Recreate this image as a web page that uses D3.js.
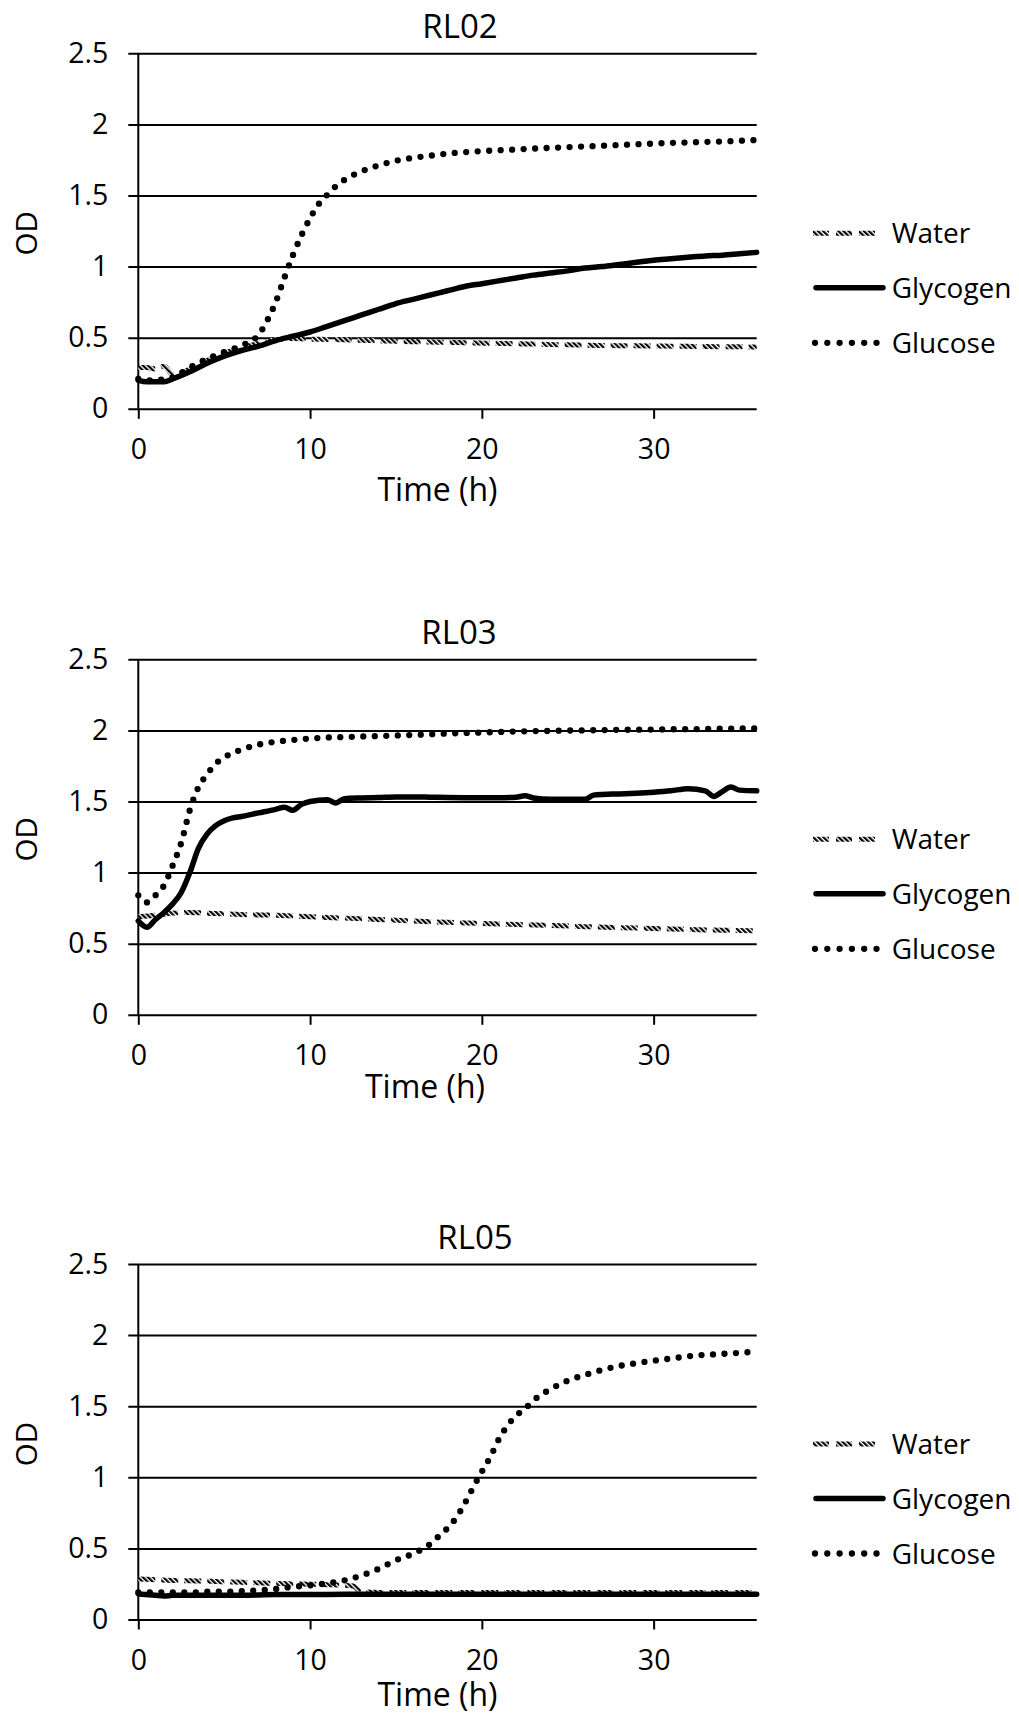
<!DOCTYPE html>
<html>
<head>
<meta charset="utf-8">
<script src="https://cdn.jsdelivr.net/npm/d3@7"></script>
<style>
  body { margin: 0; background: #fff; }
  svg { display: block; }
  text { font-family: "Open Sans", sans-serif; fill: #000; }
</style>
</head>
<body>
<svg id="chart" width="1019" height="1724"></svg>
<script>
// ---- data -------------------------------------------------------------
const panelTitles = ["RL02", "RL03", "RL05"];
const seriesNames = ["Water", "Glycogen", "Glucose"];
const yTicks = [0, 0.5, 1, 1.5, 2, 2.5];
const xTicks = [0, 10, 20, 30];
const xLabel = "Time (h)";
const yLabel = "OD";

// each series: [time (h), OD]
const rl02Water = [[0,0.29],[0.5,0.29],[1,0.28],[1.5,0.30],[2,0.24],[3,0.28],[4,0.34],[5,0.39],[6,0.43],[7,0.46],[8,0.485],[9,0.495],[10,0.49],[11,0.488],[12,0.485],[13,0.482],[14,0.478],[15,0.475],[16,0.472],[17,0.47],[18,0.467],[19,0.465],[20,0.462],[21,0.46],[22,0.457],[23,0.455],[24,0.452],[25,0.45],[26,0.448],[27,0.446],[28,0.444],[29,0.443],[30,0.442],[31,0.44],[32,0.439],[33,0.438],[34,0.437],[35,0.436],[36,0.435]];
const rl02Glycogen = [[0,0.20],[0.5,0.19],[1,0.19],[1.5,0.19],[2,0.21],[3,0.26],[4,0.32],[5,0.37],[6,0.41],[7,0.44],[8,0.48],[9,0.51],[10,0.54],[11,0.58],[12,0.62],[13,0.66],[14,0.70],[15,0.74],[16,0.77],[17,0.80],[18,0.83],[19,0.86],[20,0.88],[21,0.90],[22,0.92],[23,0.94],[24,0.955],[25,0.97],[26,0.99],[27,1.00],[28,1.015],[29,1.03],[30,1.045],[31,1.055],[32,1.065],[33,1.075],[34,1.08],[35,1.09],[36,1.10]];
const rl02Glucose = [[0,0.21],[0.5,0.20],[1,0.20],[1.5,0.21],[2,0.22],[3,0.29],[4,0.35],[5,0.40],[6,0.445],[7,0.52],[7.5,0.62],[8,0.75],[8.5,0.92],[9,1.08],[9.5,1.22],[10,1.34],[10.5,1.44],[11,1.505],[11.5,1.565],[12,1.61],[13,1.67],[14,1.712],[15,1.745],[16,1.765],[17,1.78],[18,1.795],[19,1.805],[20,1.812],[21,1.818],[22,1.824],[23,1.83],[24,1.835],[25,1.84],[26,1.845],[27,1.85],[28,1.855],[29,1.86],[30,1.865],[31,1.87],[32,1.873],[33,1.877],[34,1.88],[35,1.885],[36,1.89]];

const rl03Water = [[0,0.69],[1,0.70],[2,0.715],[3,0.72],[4,0.715],[5,0.71],[6,0.705],[8,0.70],[10,0.69],[12,0.68],[14,0.67],[16,0.66],[18,0.65],[20,0.643],[22,0.635],[24,0.628],[26,0.62],[28,0.613],[30,0.607],[32,0.60],[34,0.595],[36,0.59]];
const rl03Glycogen = [[0,0.66],[0.5,0.615],[1,0.67],[1.5,0.72],[2,0.78],[2.5,0.86],[3,1.0],[3.5,1.17],[4,1.27],[4.5,1.33],[5,1.365],[5.5,1.385],[6,1.395],[7,1.42],[8,1.445],[8.5,1.46],[9,1.438],[9.5,1.48],[10,1.50],[11,1.513],[11.5,1.49],[12,1.52],[13,1.525],[14,1.528],[15,1.532],[16,1.532],[17,1.53],[18,1.528],[19,1.527],[20,1.527],[21,1.527],[22,1.53],[22.5,1.54],[23,1.525],[24,1.515],[25,1.515],[26,1.515],[26.5,1.545],[27,1.55],[28,1.553],[29,1.558],[30,1.565],[31,1.575],[32,1.59],[33,1.575],[33.5,1.536],[34,1.57],[34.5,1.602],[35,1.58],[36,1.575]];
const rl03Glucose = [[0,0.84],[0.5,0.79],[1,0.84],[1.5,0.91],[2,1.05],[2.5,1.21],[3,1.44],[3.5,1.60],[4,1.69],[4.5,1.765],[5,1.81],[6,1.865],[7,1.90],[8,1.92],[9,1.933],[10,1.943],[11,1.95],[12,1.953],[13,1.957],[14,1.96],[15,1.964],[16,1.968],[17,1.973],[18,1.978],[19,1.982],[20,1.985],[21,1.989],[22,1.992],[23,1.995],[24,1.997],[25,1.999],[26,2.0],[27,2.002],[28,2.004],[29,2.005],[30,2.006],[31,2.008],[32,2.009],[33,2.01],[34,2.012],[35,2.013],[36,2.015]];

const rl05Water = [[0,0.285],[1,0.28],[2,0.275],[3,0.272],[4,0.27],[5,0.265],[6,0.262],[7,0.258],[8,0.254],[9,0.25],[10,0.248],[11,0.245],[12,0.24],[12.5,0.235],[13,0.195],[14,0.19],[16,0.19],[18,0.19],[20,0.19],[22,0.19],[24,0.19],[26,0.19],[28,0.19],[30,0.19],[32,0.19],[34,0.19],[36,0.19]];
const rl05Glycogen = [[0,0.18],[1,0.17],[1.5,0.165],[2,0.17],[4,0.17],[6,0.17],[8,0.175],[10,0.175],[12,0.178],[14,0.178],[16,0.178],[18,0.178],[20,0.178],[22,0.178],[24,0.178],[26,0.178],[28,0.178],[30,0.178],[32,0.178],[34,0.178],[36,0.178]];
const rl05Glucose = [[0,0.19],[1,0.19],[2,0.19],[3,0.19],[4,0.195],[5,0.195],[6,0.20],[7,0.205],[8,0.215],[9,0.23],[10,0.24],[11,0.255],[12,0.275],[13,0.31],[14,0.357],[15,0.417],[16,0.463],[17,0.532],[17.5,0.587],[18,0.642],[18.5,0.715],[19,0.815],[19.5,0.93],[20,1.04],[20.5,1.145],[21,1.27],[21.5,1.365],[22,1.435],[22.5,1.48],[23,1.54],[24,1.62],[25,1.68],[26,1.72],[27,1.755],[28,1.783],[29,1.803],[30,1.82],[31,1.835],[32,1.851],[33,1.861],[34,1.868],[35,1.875],[36,1.885]];

const panelSeries = [
  [rl02Water, rl02Glycogen, rl02Glucose],
  [rl03Water, rl03Glycogen, rl03Glucose],
  [rl05Water, rl05Glycogen, rl05Glucose]
];

// ---- layout -----------------------------------------------------------
const plotLeft = 138.3, plotRight = 756.7, plotH = 355.5;
const panelLayout = [
  { top: 53.3,  titleX: 460, timeX: 437.5, timeY: 447.5 },
  { top: 659.3, titleX: 459, timeX: 425,   timeY: 438.5 },
  { top: 1264,  titleX: 475, timeX: 437.5, timeY: 442 }
];

const svg = d3.select("#chart");
const defs = svg.append("defs");

// diagonal hatch used for the water series
const hatch = defs.append("pattern")
  .attr("id", "hatch")
  .attr("patternUnits", "userSpaceOnUse")
  .attr("width", 3.6).attr("height", 3.6)
  .attr("patternTransform", "rotate(-45)");
hatch.append("rect").attr("width", 3.6).attr("height", 3.6).attr("fill", "#fff");
hatch.append("rect").attr("width", 2.2).attr("height", 3.6).attr("fill", "#000");

const seriesStyle = [
  { stroke: "url(#hatch)", width: 5,   dash: "17 6",   cap: "butt" },
  { stroke: "#000",        width: 5.5, dash: null,     cap: "round" },
  { stroke: "#000",        width: 6.3, dash: "0 11.5", cap: "round" }
];

const x = d3.scaleLinear().domain([0, 36]).range([plotLeft, plotRight]);

panelLayout.forEach((pl, pi) => {
  const g = svg.append("g");
  const y = d3.scaleLinear().domain([0, 2.5]).range([pl.top + plotH, pl.top]);

  // horizontal gridlines with left tick stubs and labels
  const yAxis = g.append("g")
    .attr("transform", `translate(${plotLeft},0)`)
    .call(d3.axisLeft(y).tickValues(yTicks).tickFormat(d3.format(""))
      .tickSizeInner(-(plotRight - plotLeft)).tickSizeOuter(0).tickPadding(30));
  yAxis.select(".domain").remove();
  yAxis.selectAll(".tick line").attr("x1", -10).attr("stroke", "#000").attr("stroke-width", 2);
  yAxis.selectAll(".tick text").attr("font-size", 28.5).attr("font-family", "Open Sans");

  // vertical axis line
  g.append("line")
    .attr("x1", plotLeft).attr("x2", plotLeft)
    .attr("y1", y(2.5)).attr("y2", y(0))
    .attr("stroke", "#000").attr("stroke-width", 2);

  // x axis ticks below the baseline
  const xAxis = g.append("g")
    .attr("transform", `translate(0,${y(0)})`)
    .call(d3.axisBottom(x).tickValues(xTicks).tickSize(10).tickPadding(20).tickSizeOuter(0));
  xAxis.select(".domain").remove();
  xAxis.selectAll(".tick line").attr("stroke", "#000").attr("stroke-width", 2);
  xAxis.selectAll(".tick text").attr("font-size", 28.5).attr("font-family", "Open Sans");

  // series
  const line = d3.line()
    .x(d => x(d[0])).y(d => y(d[1]))
    .curve(d3.curveMonotoneX);
  panelSeries[pi].forEach((data, si) => {
    const st = seriesStyle[si];
    g.append("path")
      .datum(data)
      .attr("d", line)
      .attr("fill", "none")
      .attr("stroke", st.stroke)
      .attr("stroke-width", st.width)
      .attr("stroke-linecap", st.cap)
      .attr("stroke-linejoin", "round")
      .attr("stroke-dasharray", st.dash);
  });

  // titles
  g.append("text")
    .attr("x", pl.titleX).attr("y", pl.top - 15.5)
    .attr("text-anchor", "middle").attr("font-size", 33)
    .text(panelTitles[pi]);
  g.append("text")
    .attr("x", pl.timeX).attr("y", pl.top + pl.timeY)
    .attr("text-anchor", "middle").attr("font-size", 32)
    .text(xLabel);
  g.append("text")
    .attr("transform", `translate(36.5,${pl.top + 180}) rotate(-90)`)
    .attr("text-anchor", "middle").attr("font-size", 29.5)
    .text(yLabel);

  // legend
  const legendY = [180, 234.5, 289.5];
  const lg = g.append("g");
  seriesNames.forEach((name, si) => {
    const ly = pl.top + legendY[si];
    const st = seriesStyle[si];
    const seg = si === 0 ? [813, 875] : si === 1 ? [816, 883] : [815, 877];
    lg.append("line")
      .attr("x1", seg[0]).attr("x2", seg[1]).attr("y1", ly).attr("y2", ly)
      .attr("stroke", st.stroke)
      .attr("stroke-width", st.width)
      .attr("stroke-linecap", st.cap)
      .attr("stroke-dasharray", si === 0 ? "16 7" : si === 2 ? "0 12.3" : null);
    lg.append("text")
      .attr("x", 891.7).attr("y", ly + 10)
      .attr("font-size", 28)
      .text(name);
  });
});
</script>
</body>
</html>
